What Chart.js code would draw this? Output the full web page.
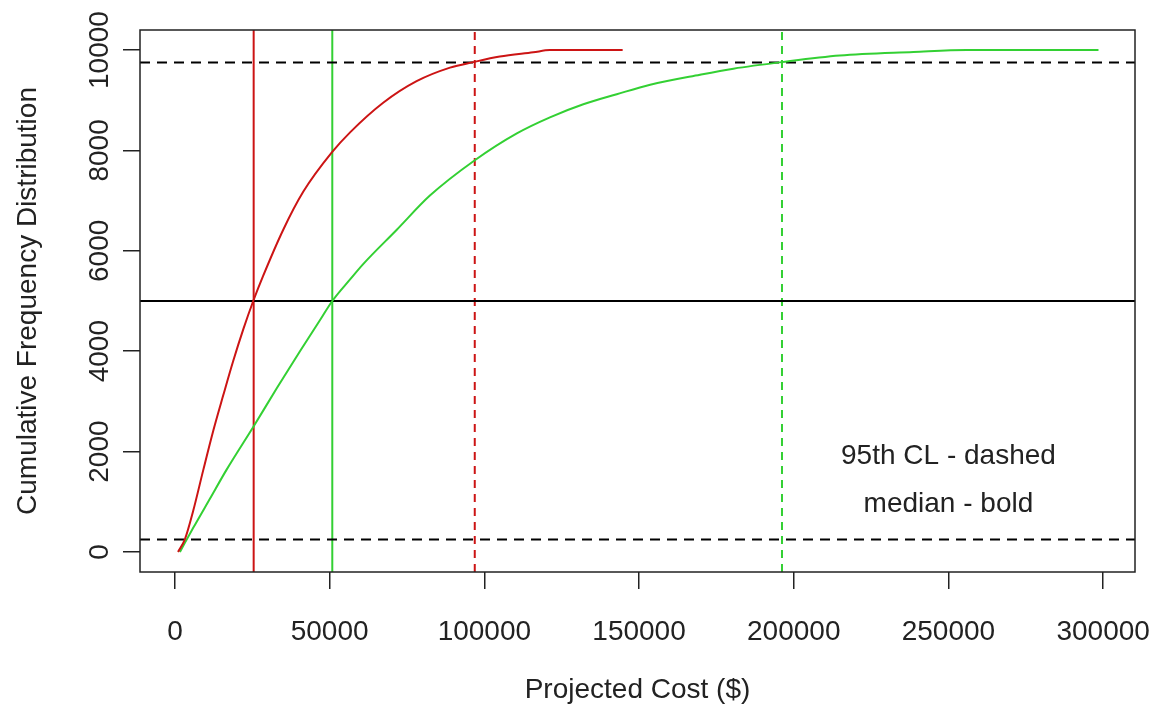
<!DOCTYPE html>
<html>
<head>
<meta charset="utf-8">
<script src="https://cdn.jsdelivr.net/npm/chart.js@4"></script>
<style>
  html, body { margin: 0; padding: 0; background: #fff; }
  canvas { display: block; }
</style>
</head>
<body>
<canvas id="cdf" width="1159" height="713"></canvas>
<script>
// values
const redCost = [1000, 3200, 5900, 9100, 12400, 15600, 18800, 22100, 25300, 28500, 35000, 41500,
  50700, 56600, 67300, 78100, 88900, 96400, 105000, 115800, 121200, 144700];
const redCount = [0, 250, 820, 1620, 2420, 3120, 3800, 4440, 5000, 5500, 6420, 7180,
  7960, 8360, 8950, 9380, 9650, 9760, 9870, 9955, 10000, 10000];

const greenCost = [1600, 5900, 11300, 16700, 25400, 32900, 40400, 46900, 50850, 56600, 60900, 71700,
  82400, 96800, 110500, 121200, 132000, 142800, 153600, 169700, 180500, 196100, 214900, 238700, 255900, 298500];
const greenCount = [0, 480, 1060, 1640, 2500, 3260, 4000, 4620, 5000, 5430, 5740, 6420,
  7100, 7800, 8340, 8660, 8920, 9120, 9310, 9510, 9630, 9760, 9890, 9960, 10000, 10000];

const redMedian = 25440;
const redUpper = 96900;
const greenMedian = 50850;
const greenUpper = 196200;
const levelLow = 250;
const levelMid = 5000;
const levelHigh = 9750;

const xTicks = [0, 50000, 100000, 150000, 200000, 250000, 300000];
const yTicks = [0, 2000, 4000, 6000, 8000, 10000];

const xMin = -11300, xMax = 310300;
const yMin = -400, yMax = 10400;

const RED = '#cc1414';
const GREEN = '#33d033';
const INK = '#222222';
const FONT = "'Liberation Sans', Arial, sans-serif";

const toPoints = (xs, ys) => xs.map((x, i) => ({ x: x, y: ys[i] }));
const vLine = x => [{ x: x, y: yMin }, { x: x, y: yMax }];
const hLine = y => [{ x: xMin, y: y }, { x: xMax, y: y }];

const refLine = (data, color, dash) => ({
  data: data,
  borderColor: color,
  borderWidth: 2,
  borderDash: dash,
  pointRadius: 0,
  order: 2
});

// rotated y tick labels, plot box and the note
const extras = {
  id: 'extras',
  afterDraw(chart) {
    const ctx = chart.ctx;
    const area = chart.chartArea;
    const ys = chart.scales.y;
    const xs = chart.scales.x;

    ctx.save();
    ctx.fillStyle = INK;
    ctx.font = '28px ' + FONT;
    ctx.textAlign = 'center';
    ctx.textBaseline = 'middle';
    ys.ticks.forEach(t => {
      ctx.save();
      ctx.translate(100, ys.getPixelForValue(t.value));
      ctx.rotate(-Math.PI / 2);
      ctx.fillText(String(t.value), 0, 0);
      ctx.restore();
    });

    ctx.fillText('95th CL - dashed', xs.getPixelForValue(250000), ys.getPixelForValue(1900));
    ctx.fillText('median - bold', xs.getPixelForValue(250000), ys.getPixelForValue(950));

    ctx.strokeStyle = INK;
    ctx.lineWidth = 1.5;
    ctx.strokeRect(area.left, area.top, area.right - area.left, area.bottom - area.top);
    ctx.restore();
  }
};

new Chart(document.getElementById('cdf'), {
  type: 'line',
  data: {
    datasets: [
      {
        data: toPoints(redCost, redCount),
        borderColor: RED,
        borderWidth: 2,
        pointRadius: 0,
        cubicInterpolationMode: 'monotone',
        order: 0
      },
      {
        data: toPoints(greenCost, greenCount),
        borderColor: GREEN,
        borderWidth: 2,
        pointRadius: 0,
        cubicInterpolationMode: 'monotone',
        order: 0
      },
      refLine(hLine(levelMid), '#000', []),
      refLine(hLine(levelLow), '#000', [10, 7]),
      refLine(hLine(levelHigh), '#000', [10, 7]),
      refLine(vLine(redMedian), RED, []),
      refLine(vLine(greenMedian), GREEN, []),
      refLine(vLine(redUpper), RED, [8, 6]),
      refLine(vLine(greenUpper), GREEN, [8, 6])
    ]
  },
  options: {
    responsive: false,
    animation: false,
    devicePixelRatio: 1,
    layout: { padding: { left: 0, top: 30, right: 24, bottom: 0 } },
    plugins: { legend: { display: false }, tooltip: { enabled: false } },
    scales: {
      x: {
        type: 'linear',
        min: xMin,
        max: xMax,
        afterBuildTicks: s => { s.ticks = xTicks.map(v => ({ value: v })); },
        afterFit: s => { s.height = 141; s.paddingLeft = 0; s.paddingRight = 0; },
        border: { display: false },
        grid: { drawOnChartArea: false, drawTicks: true, tickLength: 17, color: INK, lineWidth: 1.5 },
        ticks: {
          color: INK,
          padding: 26,
          maxRotation: 0,
          autoSkip: false,
          font: { size: 28, family: FONT },
          callback: v => String(v)
        },
        title: {
          display: true,
          text: 'Projected Cost ($)',
          color: INK,
          font: { size: 28, family: FONT },
          padding: { top: 0, bottom: 6 }
        }
      },
      y: {
        type: 'linear',
        min: yMin,
        max: yMax,
        afterBuildTicks: s => { s.ticks = yTicks.map(v => ({ value: v })); },
        afterFit: s => { s.width = 140; s.paddingTop = 0; s.paddingBottom = 0; },
        border: { display: false },
        grid: { drawOnChartArea: false, drawTicks: true, tickLength: 17, color: INK, lineWidth: 1.5 },
        ticks: { display: false },
        title: {
          display: true,
          text: 'Cumulative Frequency Distribution',
          color: INK,
          font: { size: 28, family: FONT },
          padding: { top: 11, bottom: 0 }
        }
      }
    }
  },
  plugins: [extras]
});
</script>
</body>
</html>
